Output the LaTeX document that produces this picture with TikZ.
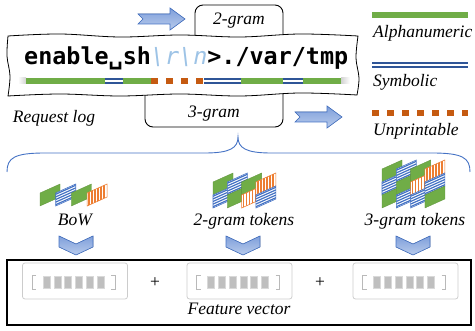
\documentclass[tikz,border=0pt]{standalone}
\usepackage{fontspec}
\setmainfont{Liberation Serif}
\newfontfamily\logfont{DejaVu Sans Mono}
\usepackage{tikz}
\definecolor{alnum}{HTML}{70AD47}
\definecolor{symb}{HTML}{2F5597}
\definecolor{unpr}{HTML}{C55A11}
\definecolor{stripe}{HTML}{ED7D31}
\definecolor{tokblue}{HTML}{4472C4}
\definecolor{arrowfill}{HTML}{7F9FDA}
\definecolor{arrowlight}{HTML}{B8CBEC}
\definecolor{escblue}{HTML}{9DC3E6}

\tikzset{
  lbl/.style={font=\fontsize{17.5}{20}\selectfont\itshape, inner sep=0pt},
  alnumline/.style={alnum, line width=6pt},
  symbline/.style={symb, line width=2pt, double=white, double distance=2pt},
  unprline/.style={unpr, line width=6pt, dash pattern=on 7pt off 8pt},
  gramframe/.style={rounded corners=8pt, line width=0.9pt},
  blockarrow/.style={draw=tokblue, top color=arrowfill, bottom color=arrowlight, line width=0.6pt},
  slot/.style={draw=gray!40, rounded corners=2.5pt, line width=0.8pt},
  pics/gtok/.style={code={
    \draw[alnum!85!black, fill=alnum, line width=0.3pt] (0,0) -- (20,-9) -- (20,4) -- (0,13) -- cycle;}},
  pics/btok/.style={code={
    \begin{scope}
      \clip (0,0) -- (20,-9) -- (20,4) -- (0,13) -- cycle;
      \fill[white] (0,-9) rectangle (20,13);
      \foreach \s in {1.3,3.9,6.5,9.1,11.7}
        \draw[tokblue, line width=1.2pt] (0,\s) -- (20,\s-9);
    \end{scope}
    \draw[tokblue, line width=0.6pt] (0,0) -- (20,-9) -- (20,4) -- (0,13) -- cycle;}},
  pics/otok/.style={code={
    \begin{scope}
      \clip (0,0) -- (20,-9) -- (20,4) -- (0,13) -- cycle;
      \fill[white] (0,-9) rectangle (20,13);
      \foreach \s in {2,5,...,17}
        \draw[stripe, line width=1.3pt] (\s,-9) -- (\s,13);
    \end{scope}
    \draw[stripe, line width=0.6pt] (0,0) -- (20,-9) -- (20,4) -- (0,13) -- cycle;}}
}

\begin{document}
\begin{tikzpicture}[x=1pt, y=-1pt]
\useasboundingbox (0,0) rectangle (475,331);

% n-gram windows behind the log
\draw[gramframe] (195,45) -- (195,5) -- (283,5) -- (283,45);
\draw[gramframe] (145,85) -- (145,127) -- (283,127) -- (283,85);
\node[lbl, anchor=base] (twogram) at (239,25) {2-gram};
\node[lbl, anchor=base] (threegram) at (214,118) {3-gram};

% request log (hand drawn edge)
\filldraw[fill=white, line width=0.8pt]
  plot[smooth, tension=0.6] coordinates {(8,36) (60,34) (120,37) (180,35) (240,37) (300,34) (358,36)}
  -- plot[smooth, tension=0.6] coordinates {(358,36) (356,58) (359,78) (357,95)}
  -- plot[smooth, tension=0.6] coordinates {(357,95) (300,93) (240,96) (180,94) (120,96) (60,94) (8,96)}
  -- plot[smooth, tension=0.6] coordinates {(8,96) (10,76) (7,56) (8,36)} -- cycle;
\node[anchor=base west, inner sep=0pt, font=\logfont\fontsize{23.4}{26}\selectfont\bfseries] (req) at (24,65)
  {enable␣sh{\mdseries\itshape\color{escblue}\textbackslash r\textbackslash n}>./var/tmp};
\shade[left color=white, right color=gray!35] (18,78) rectangle (26,84);
\draw[alnumline] (26,81) -- (105,81);
\draw[symbline] (105,81) -- (123,81);
\draw[alnumline] (123,81) -- (151,81);
\draw[unprline] (151,81) -- (204,81);
\draw[symbline] (204,81) -- (241,81);
\draw[alnumline] (241,81) -- (283,81);
\draw[symbline] (283,81) -- (303,81);
\draw[alnumline] (303,81) -- (341,81);
\shade[left color=gray!35, right color=white] (341,78) rectangle (350,84);
\node[lbl, anchor=base] (reqlog) at (54,123) {Request log};

% sliding arrows
\foreach \ax/\ay in {138/19, 295/117}
  \filldraw[blockarrow] (\ax,\ay-5) -- (\ax+32,\ay-5) -- (\ax+32,\ay-11) -- (\ax+47,\ay)
    -- (\ax+32,\ay+11) -- (\ax+32,\ay+5) -- (\ax,\ay+5) -- (\ax+5,\ay) -- cycle;

% legend
\draw[alnumline] (372,15) -- (468,15);
\node[lbl, anchor=base west] (alnumlbl) at (373,38) {Alphanumeric};
\draw[symbline] (372,65) -- (468,65);
\node[lbl, anchor=base west] (symblbl) at (373,87) {Symbolic};
\draw[unprline] (372,113) -- (468,113);
\node[lbl, anchor=base west] (unprlbl) at (373,136) {Unprintable};

% brace
\draw[tokblue, line width=0.9pt] (7,172) .. controls (7,158) and (14,153) .. (45,153) -- (205,153)
  .. controls (230,153) and (238,148) .. (238,137) .. controls (238,148) and (246,153) .. (271,153)
  -- (432,153) .. controls (463,153) and (470,158) .. (470,172);

% tokens
\foreach \t [count=\i from 0] in {gtok, btok, gtok, otok}
  \pic at (40+15.7*\i,193) {\t};
\foreach \t/\u [count=\i from 0] in {gtok/btok, btok/gtok, gtok/otok, otok/btok} {
  \pic at (213+14.3*\i,182) {\t};
  \pic at (213+14.3*\i,195) {\u};
}
\foreach \t/\u/\v [count=\i from 0] in {gtok/btok/gtok, btok/gtok/btok, gtok/otok/btok, otok/btok/gtok} {
  \pic at (382+14.3*\i,169) {\t};
  \pic at (382+14.3*\i,182) {\u};
  \pic at (382+14.3*\i,195) {\v};
}
\node[lbl, anchor=base] (bow) at (75,226) {BoW};
\node[lbl, anchor=base] (bigram) at (244,226) {2-gram tokens};
\node[lbl, anchor=base] (trigram) at (415,226) {3-gram tokens};

% chevrons
\foreach \cx in {76, 243, 413}
  \filldraw[blockarrow] (\cx-17,236) -- (\cx,244) -- (\cx+17,236) -- (\cx+17,247) -- (\cx,255)
    -- (\cx-17,247) -- cycle;

% feature vector
\draw[line width=1.8pt] (7,260) rectangle (471,325);
\foreach \cx/\nm in {75/vbow, 239.5/vbi, 405.5/vtri} {
  \node[slot, minimum width=105pt, minimum height=36pt, inner sep=0pt] (\nm) at (\cx,281) {};
  \draw[gray!55, line width=1pt] (\cx-39,276) -- (\cx-43,276) -- (\cx-43,290) -- (\cx-39,290);
  \draw[gray!55, line width=1pt] (\cx+36,276) -- (\cx+40,276) -- (\cx+40,290) -- (\cx+36,290);
  \foreach \k in {0,...,5}
    \filldraw[fill=gray!50, draw=gray!30, line width=0.5pt] (\cx-32+10.8*\k,276) rectangle +(7,12);
}
\node[font=\fontsize{17.5}{20}\selectfont] (plusa) at (155,283) {+};
\node[font=\fontsize{17.5}{20}\selectfont] (plusb) at (320,283) {+};
\node[lbl, anchor=base] (feat) at (239,315) {Feature vector};
\end{tikzpicture}
\end{document}
